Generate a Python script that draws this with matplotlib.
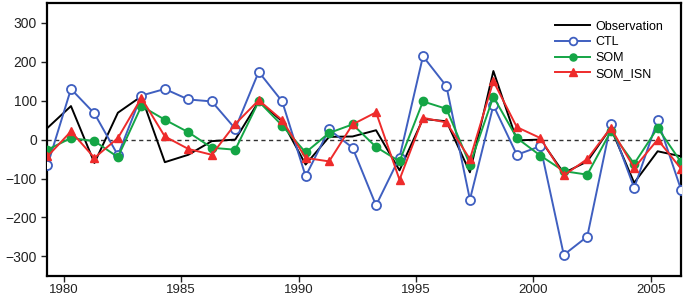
import numpy as np
import matplotlib
matplotlib.use('Agg')
import matplotlib.pyplot as plt

plt.rcParams['font.family'] = ['Liberation Sans', 'DejaVu Sans']

years = np.arange(1979, 2007)

observation = [30, 86, -60, 69, 111, -58, -39, -4, 0, 98, 47, -64, 7, 8, 24, -79,
               53, 47, -84, 176, -2, 0, -86, -56, 30, -111, -30, -43]
ctl = [-66, 130, 67, -40, 113, 130, 103, 98, 28, 174, 98, -94, 26, -21, -169, -46,
       214, 137, -154, 88, -39, -17, -296, -249, 39, -124, 50, -129]
som = [-26, 4, -4, -45, 86, 51, 19, -21, -26, 98, 36, -33, 17, 39, -19, -56,
       98, 79, -64, 110, 4, -41, -81, -90, 21, -62, 30, -58]
som_isn = [-43, 21, -47, 4, 107, 8, -24, -39, 40, 101, 50, -47, -56, 39, 70, -103,
           56, 44, -50, 150, 32, 4, -92, -50, 30, -73, 0, -75]

x = years + 0.3

fig = plt.figure(figsize=(6.85, 2.97), dpi=100)
ax = fig.add_axes([0.069, 0.071, 0.925, 0.918])

ax.axhline(0, color='#333333', linestyle='--', linewidth=1.0, dashes=(3, 2.5), zorder=1)

ax.plot(x, observation, color='black', linewidth=1.4, label='Observation', zorder=2)
ax.plot(x, ctl, color='#3f5fc0', linewidth=1.4, marker='o', markersize=6.5,
        markerfacecolor='white', markeredgecolor='#3f5fc0', markeredgewidth=1.3,
        label='CTL', zorder=3)
ax.plot(x, som, color='#14a545', linewidth=1.4, marker='o', markersize=6,
        markerfacecolor='#14a545', markeredgecolor='#14a545', label='SOM', zorder=4)
ax.plot(x, som_isn, color='#ee2b2b', linewidth=1.4, marker='^', markersize=6,
        markerfacecolor='#ee2b2b', markeredgecolor='#ee2b2b', label='SOM_ISN', zorder=5)

ax.set_xlim(1979.29, 2006.29)
ax.set_ylim(-350, 350)
ax.set_xticks([1980, 1985, 1990, 1995, 2000, 2005])
ax.set_yticks([-300, -200, -100, 0, 100, 200, 300])
ax.tick_params(direction='out', length=4, width=1, labelsize=10, colors='#222222')
ax.tick_params(axis='x', pad=1.5, labelsize=9.5)

for s in ax.spines.values():
    s.set_linewidth(1.6)

leg = ax.legend(loc='upper right', bbox_to_anchor=(0.98, 0.955), frameon=False,
                fontsize=9, handlelength=2.8, handletextpad=0.4, labelspacing=0.3,
                borderaxespad=0, markerscale=0.85)

fig.savefig('out.png', dpi=100)
